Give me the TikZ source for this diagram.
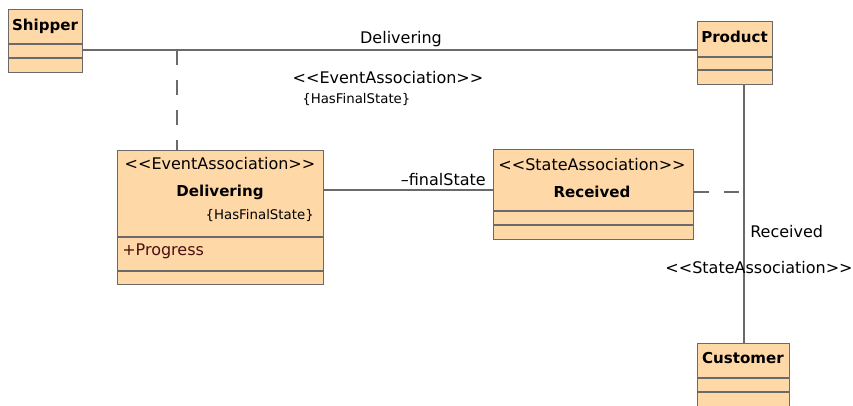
\documentclass[tikz,border=0pt]{standalone}
\usepackage{fontspec}
\setmainfont{DejaVu Sans}[Ligatures=TeXOff]
\definecolor{clsfill}{HTML}{FFD8A8}
\definecolor{edgegray}{HTML}{6A6A6A}
\definecolor{attrcol}{HTML}{4A1010}
\tikzset{
  clsbox/.style={draw=edgegray, line width=1.1pt, fill=clsfill, anchor=north west, inner sep=0pt},
  cdiv/.style={draw=edgegray, line width=1.1pt},
  assoc/.style={draw=edgegray, line width=1.1pt},
  dashassoc/.style={draw=edgegray, line width=1.1pt, dash pattern=on 11pt off 11.5pt},
  lbl/.style={font=\fontsize{12}{14}\selectfont, inner sep=0pt},
  smalllbl/.style={font=\fontsize{10}{12}\selectfont, inner sep=0pt},
  namelbl/.style={font=\fontsize{11.3}{13}\selectfont\bfseries, inner sep=0pt},
}
\begin{document}
\begin{tikzpicture}[x=0.75pt,y=-0.75pt]
\useasboundingbox (0,0) rectangle (853,405);
% class boxes
\node[clsbox, minimum width=74*0.75pt, minimum height=63*0.75pt] (shipper) at (8,9) {};
\node[clsbox, minimum width=75*0.75pt, minimum height=63*0.75pt] (product) at (697,21) {};
\node[clsbox, minimum width=206*0.75pt, minimum height=134*0.75pt] (delivering) at (117,150) {};
\node[clsbox, minimum width=200*0.75pt, minimum height=90*0.75pt] (received) at (493,149) {};
\node[clsbox, minimum width=92*0.75pt, minimum height=80*0.75pt] (customer) at (697,343) {};
% compartments
\draw[cdiv] (8,44) -- (82,44) (8,58) -- (82,58);
\draw[cdiv] (697,57) -- (772,57) (697,70) -- (772,70);
\draw[cdiv] (117,237) -- (323,237) (117,271) -- (323,271);
\draw[cdiv] (493,211) -- (693,211) (493,225) -- (693,225);
\draw[cdiv] (697,378) -- (789,378) (697,392) -- (789,392);
% texts in boxes
\node[namelbl] (tshipper) at (45,26) {Shipper};
\node[namelbl] (tproduct) at (734.5,37) {Product};
\node[namelbl] (tcustomer) at (743,358) {Customer};
\node[lbl] (tdelst) at (220,164) {<<EventAssociation>>};
\node[namelbl] (tdelname) at (220,192) {Delivering};
\node[smalllbl, anchor=east] (tdelcons) at (314,216) {\{HasFinalState\}};
\node[lbl, anchor=west, text=attrcol] (tprog) at (122,251) {+Progress};
\node[lbl] (trecst) at (592,165) {<<StateAssociation>>};
\node[namelbl] (trecname) at (592,192) {Received};
% connectors
\coordinate (jdel) at (177,50);
\coordinate (jrec) at (744,192);
\draw[assoc] (shipper.east |- 0,50) -- (product.west |- 0,50);
\draw[dashassoc] (jdel) -- (jdel |- delivering.north);
\draw[assoc] (delivering.east |- 0,190) -- (received.west |- 0,190);
\draw[assoc] (product.south -| 744,0) -- (customer.north -| 744,0);
\draw[dashassoc] (received.east |- jrec) -- (jrec);
% connector labels
\node[lbl] (ldel) at (401,39) {Delivering};
\node[lbl] (ldelst) at (388,78) {<<EventAssociation>>};
\node[smalllbl, anchor=west] (ldelcons) at (302,100) {\{HasFinalState\}};
\node[lbl, anchor=east] (lfinal) at (486,180) {–finalState};
\node[lbl, anchor=west] (lrec) at (750,232) {Received};
\node[lbl] (lrecst) at (759,268) {<<StateAssociation>>};
\end{tikzpicture}
\end{document}
